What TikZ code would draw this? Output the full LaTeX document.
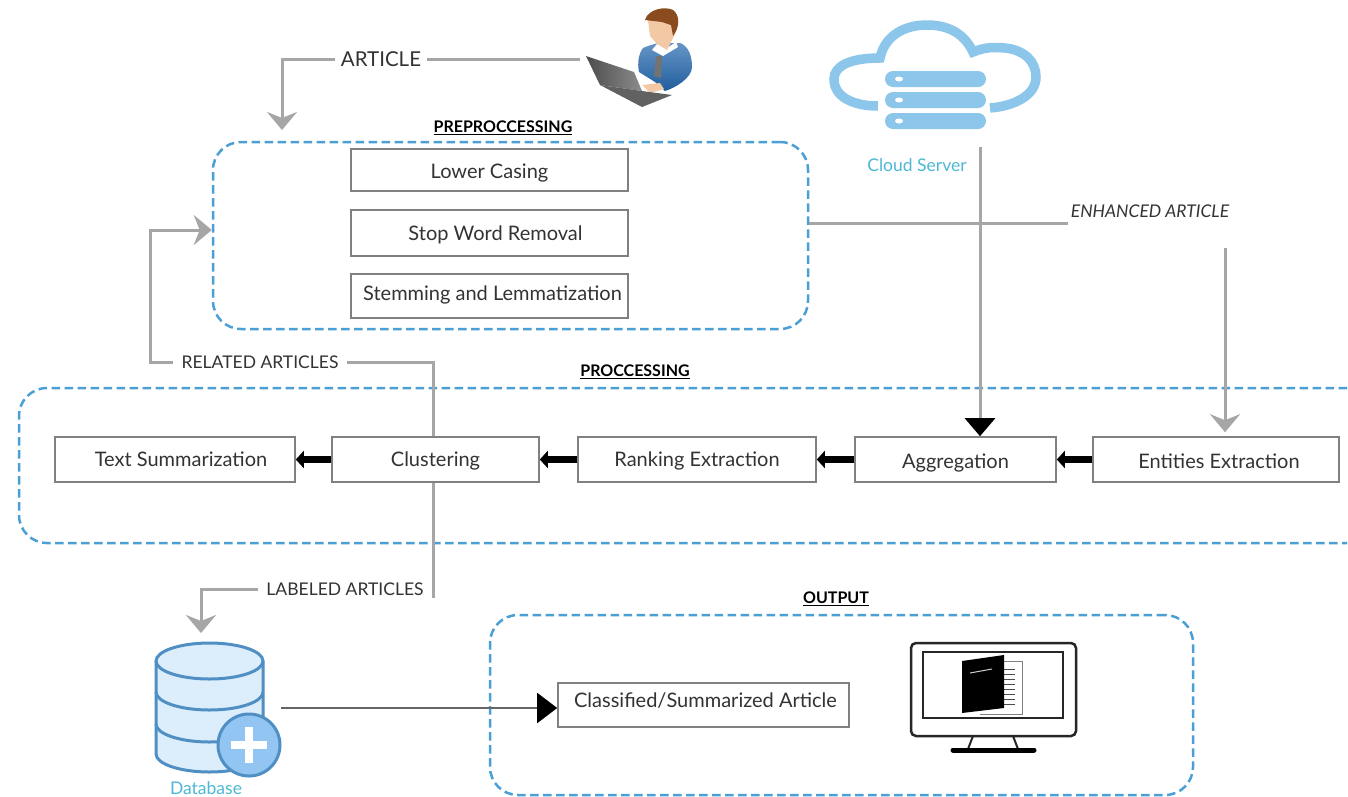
\documentclass[tikz,border=0pt]{standalone}
\usepackage{fontspec}
\setmainfont{Lato}
\usetikzlibrary{arrows.meta}
\definecolor{dashblue}{HTML}{4A9FD4}
\definecolor{linegrey}{HTML}{A6A6A6}
\definecolor{cloudblue}{HTML}{8CC6EA}
\definecolor{labelblue}{HTML}{4DB8D4}
\definecolor{dbline}{HTML}{4F8FC4}
\definecolor{dbfill}{HTML}{DCEEFB}
\definecolor{plusblue}{HTML}{92C5F2}
\definecolor{shirtblue}{HTML}{2468AE}
\definecolor{hairbrown}{HTML}{8A4B1F}
\definecolor{skin}{HTML}{F3C9A5}
\tikzset{
    every node/.style={font=\fontsize{20}{24}\selectfont, text=black!80},
    stepbox/.style={draw=black!50, line width=1.6pt, inner sep=0pt, text height=18pt, text depth=4pt},
    groupbox/.style={draw=dashblue, line width=2.5pt, dash pattern=on 8.5pt off 4.5pt, rounded corners=28pt},
    greyline/.style={draw=linegrey, line width=3pt},
    greyarrow/.style={greyline, -{Stealth[length=18pt,width=30pt,inset=6pt]}},
    blackarrow/.style={draw=black, line width=6.5pt, -{Triangle[length=8pt,width=17pt]}},
    bigarrow/.style={greyline, -{Triangle[length=18pt,width=30pt,color=black,fill=black]}},
    title/.style={font=\fontsize{16}{20}\selectfont\bfseries, text=black},
}
\begin{document}
\begin{tikzpicture}[x=1pt, y=-1pt]
    \useasboundingbox (0, 0) rectangle (1348, 796);
    \fill[white] (0, 0) rectangle (1348, 796);

    % groups
    \node[groupbox, minimum width=595pt, minimum height=187pt] (preproc) at (510.5, 235.5) {};
    \draw[groupbox] (1347, 388) -- (19, 388) -- (19, 543) -- (1347, 543);
    \node[groupbox, minimum width=703pt, minimum height=180pt] (outputbox) at (841.5, 705) {};
    \node[title] (preproctitle) at (503, 128) {\underline{PREPROCCESSING}};
    \node[title] (proctitle) at (635, 372) {\underline{PROCCESSING}};
    \node[title] (outputtitle) at (836, 599) {\underline{OUTPUT}};

    % steps
    \node[stepbox, minimum width=277pt, minimum height=42pt] (lower) at (489.5, 170) {\raisebox{-1pt}{Lower Casing}};
    \node[stepbox, minimum width=277pt, minimum height=46pt] (stopword) at (489.5, 233) {\hspace{12pt}Stop Word Removal};
    \node[stepbox, minimum width=277pt, minimum height=44pt] (stemming) at (489.5, 296) {\hspace{6pt}\raisebox{3pt}{Stemming and Lemmatization}};
    \node[stepbox, minimum width=240pt, minimum height=45pt] (summarization) at (175, 459.5) {\hspace{12pt}Text Summarization};
    \node[stepbox, minimum width=207pt, minimum height=45pt] (clustering) at (435.5, 459.5) {Clustering};
    \node[stepbox, minimum width=238pt, minimum height=45pt] (ranking) at (697, 459.5) {Ranking Extraction};
    \node[stepbox, minimum width=201pt, minimum height=45pt] (aggregation) at (955.5, 459.5) {\raisebox{-2pt}{Aggregation}};
    \node[stepbox, minimum width=246pt, minimum height=45pt] (entities) at (1216, 459.5) {\hspace{6pt}\raisebox{-2pt}{Entities Extraction}};
    \node[stepbox, minimum width=291pt, minimum height=44pt] (classified) at (703.5, 705) {\hspace{4pt}\raisebox{5pt}{Classified/Summarized Article}};

    % labels on the lines
    \node[inner sep=6pt, font=\fontsize{20.5}{25}\selectfont] (article) at (381, 59.5) {ARTICLE};
    \node[inner sep=8pt, font=\fontsize{17.5}{21}\selectfont] (related) at (260, 362) {RELATED ARTICLES};
    \node[inner sep=8pt, font=\fontsize{17.5}{21}\selectfont] (labeled) at (345, 589) {LABELED ARTICLES};
    \node[inner sep=0pt, font=\fontsize{17.5}{21}\selectfont\itshape] (enhanced) at (1150, 211) {ENHANCED ARTICLE};
    \node[text=labelblue, font=\fontsize{17.5}{21}\selectfont] (cloudserver) at (917, 165) {Cloud Server};
    \node[text=labelblue, font=\fontsize{17.5}{21}\selectfont] (databasetext) at (206, 788) {Database};

    % free ends
    \coordinate (user) at (580, 59.5);
    \coordinate (articleend) at (282, 130);
    \coordinate (enhancedstart) at (1068, 223);
    \coordinate (enhancedend) at (1225, 248);
    \coordinate (cloudstart) at (980, 147);
    \coordinate (relatedturn) at (150, 230);
    \coordinate (labeledend) at (201, 633);
    \coordinate (labeledturn) at (433, 598);
    \coordinate (dbstart) at (281, 708);

    \draw[greyline] (article) -- (user);
    \draw[greyarrow] (article) -| (articleend);
    \draw[greyline] (preproc.east |- enhancedstart) -- (enhancedstart);
    \draw[greyarrow, shorten >=4pt] (enhancedend) -- (enhancedend |- entities.north);
    \draw[bigarrow] (cloudstart) -- (cloudstart |- aggregation.north);
    \draw[greyline] (related) -| (clustering.north -| labeledturn);
    \draw[greyarrow] (related) -| (relatedturn) -- (preproc.west |- relatedturn);
    \draw[greyline] (clustering.south -| labeledturn) -- (labeledturn);
    \draw[greyarrow] (labeled) -| (labeledend);
    \draw[draw=black!60, line width=2pt, -{Triangle[length=20pt,width=30pt,color=black,fill=black]}] (dbstart) -- (classified.west |- dbstart);

    \draw[blackarrow] (entities) -- (aggregation);
    \draw[blackarrow] (aggregation) -- (ranking);
    \draw[blackarrow] (ranking) -- (clustering);
    \draw[blackarrow] (clustering) -- (summarization);

    % user at the laptop
    \shade[top color=shirtblue!70, bottom color=shirtblue!90!black] (643, 48) .. controls (650, 45) and (655, 44) .. (658, 43) -- (680, 43) .. controls (688, 46) and (692, 55) .. (692, 67) .. controls (692, 78) and (675, 88) .. (665, 91) -- (655, 82) -- (639, 72) .. controls (637, 62) and (639, 53) .. (643, 48) -- cycle;
    \fill[white] (652, 50) -- (657, 44) -- (667, 48) -- (676, 42) -- (678, 47) -- (663, 56) -- cycle;
    \fill[black!55] (656, 56) -- (662, 56) -- (661, 78) -- (654, 76) -- cycle;
    \fill[skin] (648, 20) -- (676, 20) -- (675, 34) -- (667, 50) -- (657, 44) -- (650, 36) -- cycle;
    \fill[hairbrown] (645, 20) .. controls (648, 9) and (665, 6) .. (673, 10) .. controls (680, 15) and (680, 27) .. (673, 36) -- (671, 25) -- (662, 22) -- cycle;
    \fill[skin] (642, 85) -- (660, 83) -- (664, 89) -- (650, 93) -- cycle;
    \shade[left color=black!70, right color=black!45] (586, 56) -- (634, 72) -- (642, 91) -- (600, 85) -- cycle;
    \fill[black!62] (600, 85) -- (642, 91) -- (672, 95) -- (642, 107) -- cycle;

    % cloud
    \draw[cloudblue, line width=9.5pt] (878, 106) .. controls (855, 106) and (834, 98) .. (834, 79) .. controls (834, 66) and (850, 58) .. (880, 58) .. controls (885, 35) and (905, 25) .. (927, 25) .. controls (950, 25) and (965, 35) .. (973, 52) .. controls (985, 47) and (995, 47) .. (1005, 48) .. controls (1025, 50) and (1036, 62) .. (1036, 77) .. controls (1036, 95) and (1015, 106) .. (990, 108);
    \foreach \y in {79, 100, 121} {
        \fill[cloudblue, rounded corners=8pt] (885, \y - 8) rectangle (986, \y + 8);
        \fill[white] (899, \y) ellipse (4 and 2.5);
    }

    % database
    \draw[dbline, fill=dbfill, line width=3pt] (156, 661) -- (156, 754) arc[start angle=180, end angle=0, x radius=53.5, y radius=18] -- (263, 661);
    \draw[dbline, line width=3pt] (156, 692) arc[start angle=180, end angle=0, x radius=53.5, y radius=18];
    \draw[dbline, line width=3pt] (156, 724) arc[start angle=180, end angle=0, x radius=53.5, y radius=18];
    \draw[dbline, fill=dbfill, line width=3pt] (209.5, 661) ellipse (53.5 and 18);
    \draw[dbline, fill=plusblue, line width=3pt] (249, 745) circle (31);
    \fill[white] (245, 727) rectangle (253, 763);
    \fill[white] (231, 741) rectangle (267, 749);

    % monitor
    \draw[black!85, line width=2.5pt, rounded corners=5pt] (911, 643) rectangle (1076, 736);
    \draw[black!85, line width=2.5pt] (923, 652) rectangle (1063, 718);
    \draw[black!85, line width=2pt] (973, 736) -- (968, 749);
    \draw[black!85, line width=2pt] (1013, 736) -- (1018, 749);
    \draw[black, line width=5pt, line cap=round] (953, 750) -- (1034, 750);
    \draw[black!50, line width=1pt] (1004, 661) -- (1022, 661) -- (1022, 714) -- (980, 714);
    \foreach \y in {669, 674, 679, 684, 689, 694, 699, 704} {
        \draw[black!70, line width=1pt] (1004, \y) -- (1015, \y);
    }
    \fill[black] (962, 661) -- (1004, 655) -- (1004, 708) -- (962, 713) -- cycle;
    \draw[white!80!black, line width=1pt] (970, 673) -- (992, 669);
\end{tikzpicture}
\end{document}
